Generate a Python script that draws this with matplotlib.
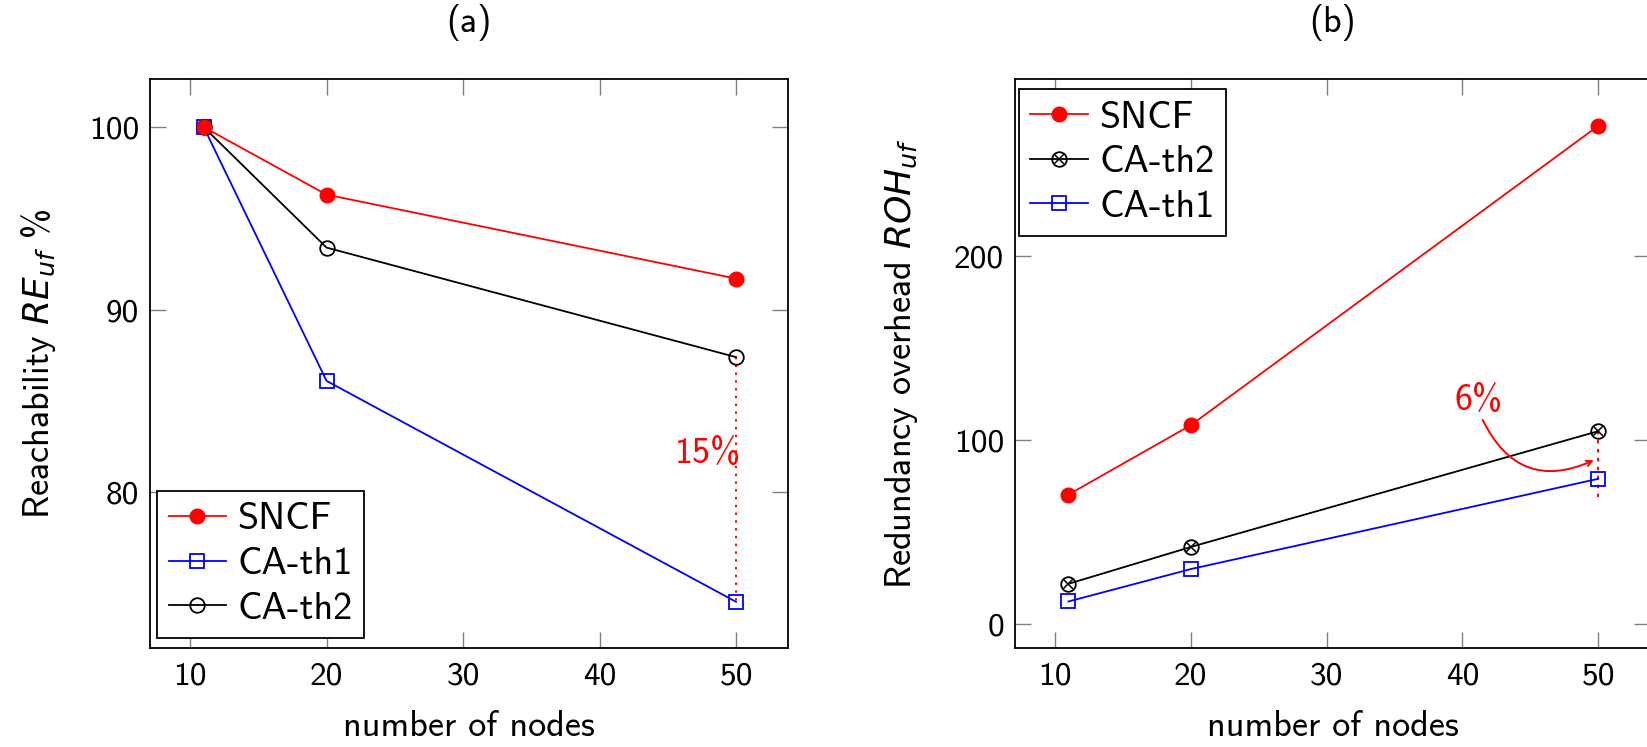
import matplotlib
matplotlib.use("Agg")
import matplotlib.pyplot as plt
from matplotlib.legend_handler import HandlerTuple

plt.rcParams["font.family"] = ["cmss10", "DejaVu Sans"]
plt.rcParams["mathtext.fontset"] = "custom"
plt.rcParams["mathtext.rm"] = "cmss10"
plt.rcParams["mathtext.it"] = "DejaVu Sans:italic"
plt.rcParams["axes.unicode_minus"] = False
plt.rcParams["axes.formatter.use_mathtext"] = False

# data
nodes = [11, 20, 50]

reach_sncf = [100.0, 96.3, 91.7]
reach_th1 = [100.0, 86.1, 74.0]
reach_th2 = [100.0, 93.4, 87.4]

roh_sncf = [70.5, 108.2, 271.0]
roh_th2 = [22.0, 42.0, 105.0]
roh_th1 = [12.4, 30.0, 79.1]

xticks = [10, 20, 30, 40, 50]
yticks_a = [80, 90, 100]
yticks_b = [0, 100, 200]

RED, BLUE, BLACK = "#ff0000", "#0000ff", "#000000"
LW = 1.3
MS = 10.5

fig = plt.figure(figsize=(16.47, 7.47), dpi=100)
ax_a = fig.add_axes([0.0911, 0.1325, 0.3873, 0.7617])
ax_b = fig.add_axes([0.6163, 0.1325, 0.3855, 0.7617])


def style(ax, yticks, ylim):
    ax.set_xlim(7.07, 53.8)
    ax.set_ylim(*ylim)
    ax.set_xticks(xticks)
    ax.set_yticks(yticks)
    ax.tick_params(direction="in", length=11.5, width=1.0, color="#808080",
                   top=True, right=True, labelsize=24)
    ax.tick_params(axis="x", pad=10)
    ax.tick_params(axis="y", pad=8)
    for s in ax.spines.values():
        s.set_linewidth(1.3)
    ax.set_xlabel("number of nodes", fontsize=26, labelpad=14)


# ---- (a) reachability
l1, = ax_a.plot(nodes, reach_sncf, color=RED, lw=LW, marker="o", ms=MS, label="SNCF", zorder=4)
l2, = ax_a.plot(nodes, reach_th1, color=BLUE, lw=LW, marker="s", ms=MS, mfc="none",
                mew=1.3, label="CA-th1", zorder=3)
l3, = ax_a.plot(nodes, reach_th2, color=BLACK, lw=LW, marker="o", ms=MS, mfc="none",
                mew=1.3, label="CA-th2", zorder=3)
ax_a.plot([nodes[-1], nodes[-1]], [reach_th2[-1], reach_th1[-1]], color=RED, lw=1.4,
          ls=(0, (1.2, 2.8)), zorder=2)
ax_a.text(47.95, 82.1, "15%", color=RED, fontsize=26, ha="center", va="center")
style(ax_a, yticks_a, (71.47, 102.63))
ax_a.set_ylabel("Reachability $RE_{uf}$ %", fontsize=26, labelpad=22)
ax_a.set_title("(a)", fontsize=26, pad=34)
ax_a.legend(handles=[l1, l2, l3], loc="lower left", bbox_to_anchor=(0.011, 0.0176),
            borderaxespad=0, fontsize=27.5, fancybox=False, edgecolor="black", framealpha=1,
            handlelength=1.5, handletextpad=0.3, labelspacing=0.25, borderpad=0.3
            ).get_frame().set_linewidth(1.3)

# ---- (b) redundancy overhead
m1, = ax_b.plot(nodes, roh_sncf, color=RED, lw=LW, marker="o", ms=MS, zorder=4)
m2o, = ax_b.plot(nodes, roh_th2, color=BLACK, lw=LW, marker="o", ms=MS, mfc="none",
                 mew=1.3, zorder=3)
m2x, = ax_b.plot(nodes, roh_th2, color=BLACK, ls="none", marker="x", ms=6.5, mew=1.1, zorder=3)
m3, = ax_b.plot(nodes, roh_th1, color=BLUE, lw=LW, marker="s", ms=MS, mfc="none",
                mew=1.3, zorder=3)
ax_b.plot([nodes[-1], nodes[-1]], [roh_th2[-1], 68.7], color=RED, lw=1.4,
          ls=(0, (1.8, 2.8)), zorder=2)
ax_b.annotate("", xy=(49.85, 89.8), xytext=(41.4, 112.5),
              arrowprops=dict(arrowstyle="->", color=RED, lw=1.4,
                              connectionstyle="arc3,rad=0.5"))
ax_b.text(41.2, 121.9, "6%", color=RED, fontsize=26, ha="center", va="center")
style(ax_b, yticks_b, (-12.9, 296.4))
ax_b.set_ylabel("Redundancy overhead $ROH_{uf}$", fontsize=26, labelpad=24)
ax_b.set_title("(b)", fontsize=26, pad=34)
ax_b.legend(handles=[m1, (m2o, m2x), m3], labels=["SNCF", "CA-th2", "CA-th1"],
            handler_map={tuple: HandlerTuple(ndivide=1)},
            loc="upper left", bbox_to_anchor=(0.006, 0.982),
            borderaxespad=0, fontsize=27.5, fancybox=False, edgecolor="black", framealpha=1,
            handlelength=1.5, handletextpad=0.3, labelspacing=0.25, borderpad=0.3
            ).get_frame().set_linewidth(1.3)

fig.savefig("out.png", dpi=100)
